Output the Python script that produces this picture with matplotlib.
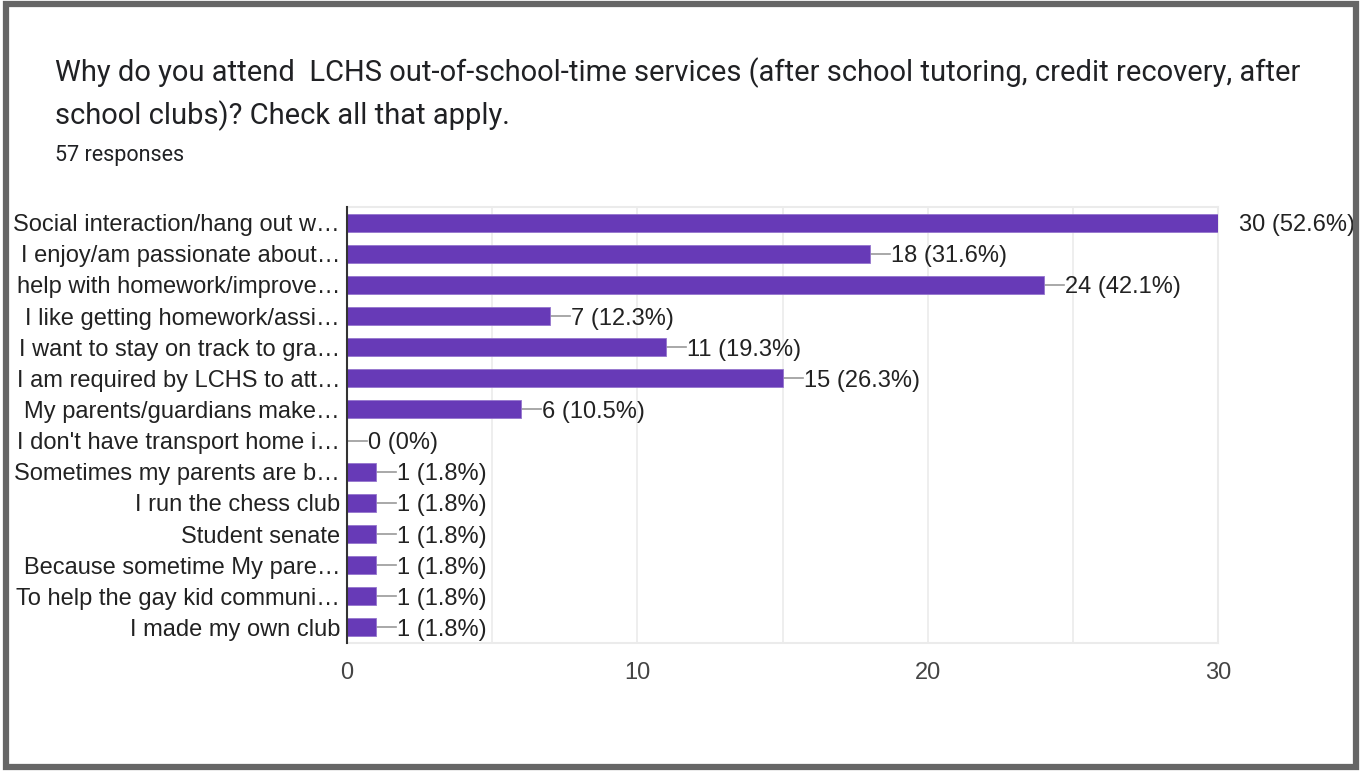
import matplotlib.pyplot as plt
from matplotlib.patches import Rectangle
import numpy as np

### survey data
labels = [
    "Social interaction/hang out w\u2026",
    "I enjoy/am passionate about\u2026",
    "help with homework/improve\u2026",
    "I like getting homework/assi\u2026",
    "I want to stay on track to gra\u2026",
    "I am required by LCHS to att\u2026",
    "My parents/guardians make\u2026",
    "I don't have transport home i\u2026",
    "Sometimes my parents are b\u2026",
    "I run the chess club",
    "Student senate",
    "Because sometime My pare\u2026",
    "To help the gay kid communi\u2026",
    "I made my own club",
]
counts = [30, 18, 24, 7, 11, 15, 6, 0, 1, 1, 1, 1, 1, 1]
pcts = ["52.6%", "31.6%", "42.1%", "12.3%", "19.3%", "26.3%", "10.5%",
        "0%", "1.8%", "1.8%", "1.8%", "1.8%", "1.8%", "1.8%"]
xticks = [0, 10, 20, 30]

W, H = 1362, 771
fig = plt.figure(figsize=(W/100, H/100), dpi=100)
fig.patch.set_facecolor("white")

# outer frame
fig.patches.append(Rectangle((6/W, 4/H), (W-12)/W, (H-8)/H, transform=fig.transFigure,
                             fill=False, edgecolor="#666666", linewidth=4.5))

fig.text(55/W, 1-73/H, "Why do you attend  LCHS out-of-school-time services (after school tutoring, credit recovery, after",
         fontsize=21, family="Roboto", color="#202124", va="center")
fig.text(55/W, 1-116/H, "school clubs)? Check all that apply.",
         fontsize=21, family="Roboto", color="#202124", va="center")
fig.text(55/W, 1-155/H, "57 responses", fontsize=15.5, family="Roboto", color="#202124", va="center")

ax = fig.add_axes([347/W, 1-643/H, (1218-347)/W, 436/H])
y = np.arange(len(labels))
ax.barh(y, counts, height=0.58, color="#673ab7", edgecolor="#9575cd", linewidth=0.6, zorder=3)
ax.set_xlim(0, 30)
ax.set_ylim(len(labels)-0.5, -0.5)
ax.set_yticks(y)
ax.set_yticklabels(labels, family="Liberation Sans", fontsize=17, color="#222222",
                   va="center_baseline")
ax.set_xticks(xticks)
ax.set_xticklabels([str(t) for t in xticks], family="Liberation Sans", fontsize=17, color="#444444")
ax.set_xticks(np.arange(5, 30, 5), minor=True)
ax.tick_params(axis="both", which="both", length=0)
ax.tick_params(axis="y", pad=5)
ax.tick_params(axis="x", pad=14)
ax.grid(axis="x", which="both", color="#ebebeb", linewidth=1.2, zorder=0)
for s in ["top", "right", "bottom"]:
    ax.spines[s].set_color("#ebebeb")
    ax.spines[s].set_linewidth(1.5)
ax.spines["left"].set_color("#333333")
ax.spines["left"].set_linewidth(1.5)
ax.spines["left"].set_zorder(5)

px = 30/871.0
for i, (c, p) in enumerate(zip(counts, pcts)):
    ax.plot([c, c + 20*px], [i, i], color="#999999", linewidth=1.2, zorder=2)
    ax.text(c + 21*px, i, f"{c} ({p})", va="center_baseline", ha="left", family="Liberation Sans",
            fontsize=17, color="#222222", clip_on=False)

plt.savefig("out.png", dpi=100)
